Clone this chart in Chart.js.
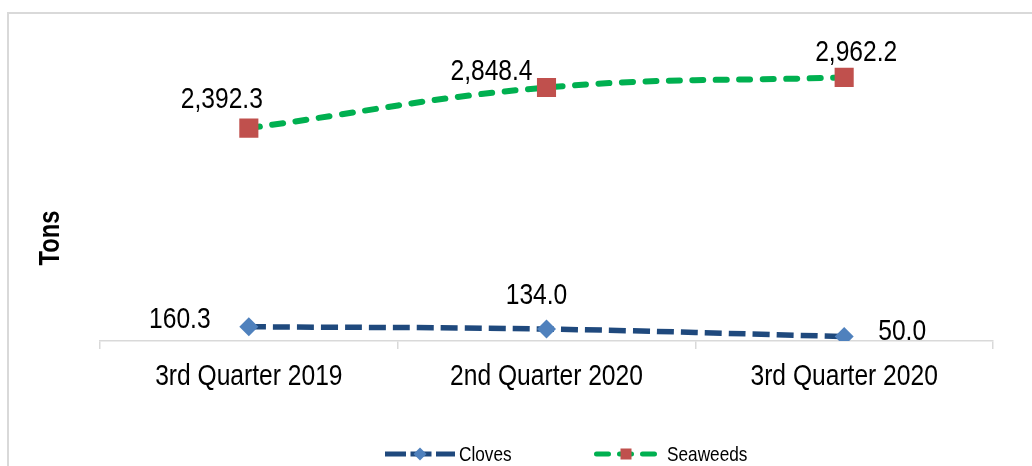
<!DOCTYPE html>
<html>
<head>
<meta charset="utf-8">
<script src="https://cdn.jsdelivr.net/npm/chart.js@4/dist/chart.umd.min.js"></script>
<style>
    body { margin: 0; overflow: hidden; background: #fff; }
    .khung { position: absolute; left: 7px; top: 12px; width: 1100px; height: 520px; border: 2px solid #d9d9d9; }
    .bieuDo { position: absolute; left: 0; top: 0; width: 1032px; height: 466px; }
</style>
</head>
<body>
<div class="khung"></div>
<div class="bieuDo"><canvas id="lineChart"></canvas></div>
<script>
const categories = ['3rd Quarter 2019', '2nd Quarter 2020', '3rd Quarter 2020'];
const clovesTons = [160.3, 134.0, 50.0];
const seaweedsTons = [2392.3, 2848.4, 2962.2];
const seriesNames = ['Cloves', 'Seaweeds'];
const yAxisTitle = 'Tons';

// vi tri nhan so lieu (lech so voi diem)
const clovesLabelOffsets = [[-69, -7], [-10, -33], [58, -5]];
const seaweedsLabelOffsets = [[-27, -28], [-55, -16], [12, -25]];

const fontChu = "'Liberation Sans', Arial, sans-serif";
const tiLeHep = 0.82; // gia lap Arial Narrow
const ctx = document.getElementById('lineChart').getContext('2d');

const formatSo = (v) => v.toLocaleString('en-US', { minimumFractionDigits: 1, maximumFractionDigits: 1 });

// ve chu hep theo chieu ngang
const veChuHep = (c, text, x, y, font, align = 'center', goc = 0) => {
    c.save();
    c.translate(x, y);
    c.rotate(goc);
    c.scale(tiLeHep, 1);
    c.font = font;
    c.fillStyle = '#000';
    c.textAlign = align;
    c.textBaseline = 'middle';
    c.fillText(text, 0, 0);
    c.restore();
};

//Nhan so lieu tren moi diem
const nhanSoLieu = {
    id: 'nhanSoLieu',
    afterDatasetsDraw(chart) {
        const c = chart.ctx;
        const offsets = [clovesLabelOffsets, seaweedsLabelOffsets];
        chart.data.datasets.forEach((ds, i) => {
            chart.getDatasetMeta(i).data.forEach((pt, j) => {
                const [dx, dy] = offsets[i][j];
                veChuHep(c, formatSo(ds.data[j]), pt.x + dx, pt.y + dy, `30px ${fontChu}`);
            });
        });
    }
};

//Nhan truc hoanh, tieu de truc tung, chu thich
const trangTri = {
    id: 'trangTri',
    afterDraw(chart) {
        const c = chart.ctx;
        const xScale = chart.scales.x;
        chart.data.labels.forEach((lb, i) => {
            veChuHep(c, lb, xScale.getPixelForTick(i), xScale.top + 36, `30px ${fontChu}`);
        });

        veChuHep(c, yAxisTitle, 51, 238, `bold 29px ${fontChu}`, 'center', -Math.PI / 2);

        const legendY = 454;
        const items = [
            { start: 385, end: 455, marker: 420, text: 459, dash: [21, 4.5], cap: 'butt' },
            { start: 596.5, end: 654.5, marker: 626, text: 667, dash: [12, 11], cap: 'round' }
        ];
        chart.data.datasets.forEach((ds, i) => {
            const it = items[i];
            c.save();
            c.strokeStyle = ds.borderColor;
            c.lineWidth = 5;
            c.lineCap = it.cap;
            c.setLineDash(it.dash);
            c.beginPath();
            c.moveTo(it.start, legendY);
            c.lineTo(it.end, legendY);
            c.stroke();
            c.restore();
            c.save();
            c.fillStyle = ds.pointBackgroundColor;
            if (ds.pointStyle === 'rectRot') {
                c.beginPath();
                c.moveTo(it.marker - 6.5, legendY);
                c.lineTo(it.marker, legendY - 6.5);
                c.lineTo(it.marker + 6.5, legendY);
                c.lineTo(it.marker, legendY + 6.5);
                c.closePath();
                c.fill();
            } else {
                c.fillRect(it.marker - 5.5, legendY - 5.5, 11, 11);
            }
            c.restore();
            veChuHep(c, ds.label, it.text, legendY + 1, `21px ${fontChu}`, 'left');
        });
    }
};

const data = {
    labels: categories,
    datasets: [{
        label: seriesNames[0],
        data: clovesTons,
        borderColor: '#1f497d',
        backgroundColor: '#4f81bd',
        borderWidth: 5.5,
        borderDash: [17, 7],
        tension: 0.4,
        pointStyle: 'rectRot',
        pointRadius: 9.5,
        pointBackgroundColor: '#4f81bd',
        pointBorderColor: '#4f81bd',
        pointBorderWidth: 0
    }, {
        label: seriesNames[1],
        data: seaweedsTons,
        borderColor: '#00b050',
        backgroundColor: '#c0504d',
        borderWidth: 6,
        borderDash: [11, 12.5],
        borderCapStyle: 'round',
        tension: 0.4,
        pointStyle: 'rect',
        pointRadius: 13.5,
        pointBackgroundColor: '#c0504d',
        pointBorderColor: '#c0504d',
        pointBorderWidth: 0
    }]
};

const config = {
    type: 'line',
    data: data,
    options: {
        responsive: true,
        maintainAspectRatio: false,
        animation: false,
        layout: { padding: { left: 100, right: 39, top: 29.5, bottom: 0 } },
        plugins: {
            legend: { display: false },
            tooltip: { enabled: false }
        },
        scales: {
            x: {
                offset: true,
                grid: { offset: true, drawOnChartArea: false, drawTicks: true, tickLength: 8, color: '#d9d9d9', lineWidth: 1.5 },
                border: { color: '#d9d9d9', width: 1.5 },
                ticks: { display: false },
                afterFit: (scale) => { scale.height = 125; }
            },
            y: {
                display: false,
                min: 0,
                max: 3500
            }
        }
    },
    plugins: [nhanSoLieu, trangTri]
};

new Chart(ctx, config);
</script>
</body>
</html>
